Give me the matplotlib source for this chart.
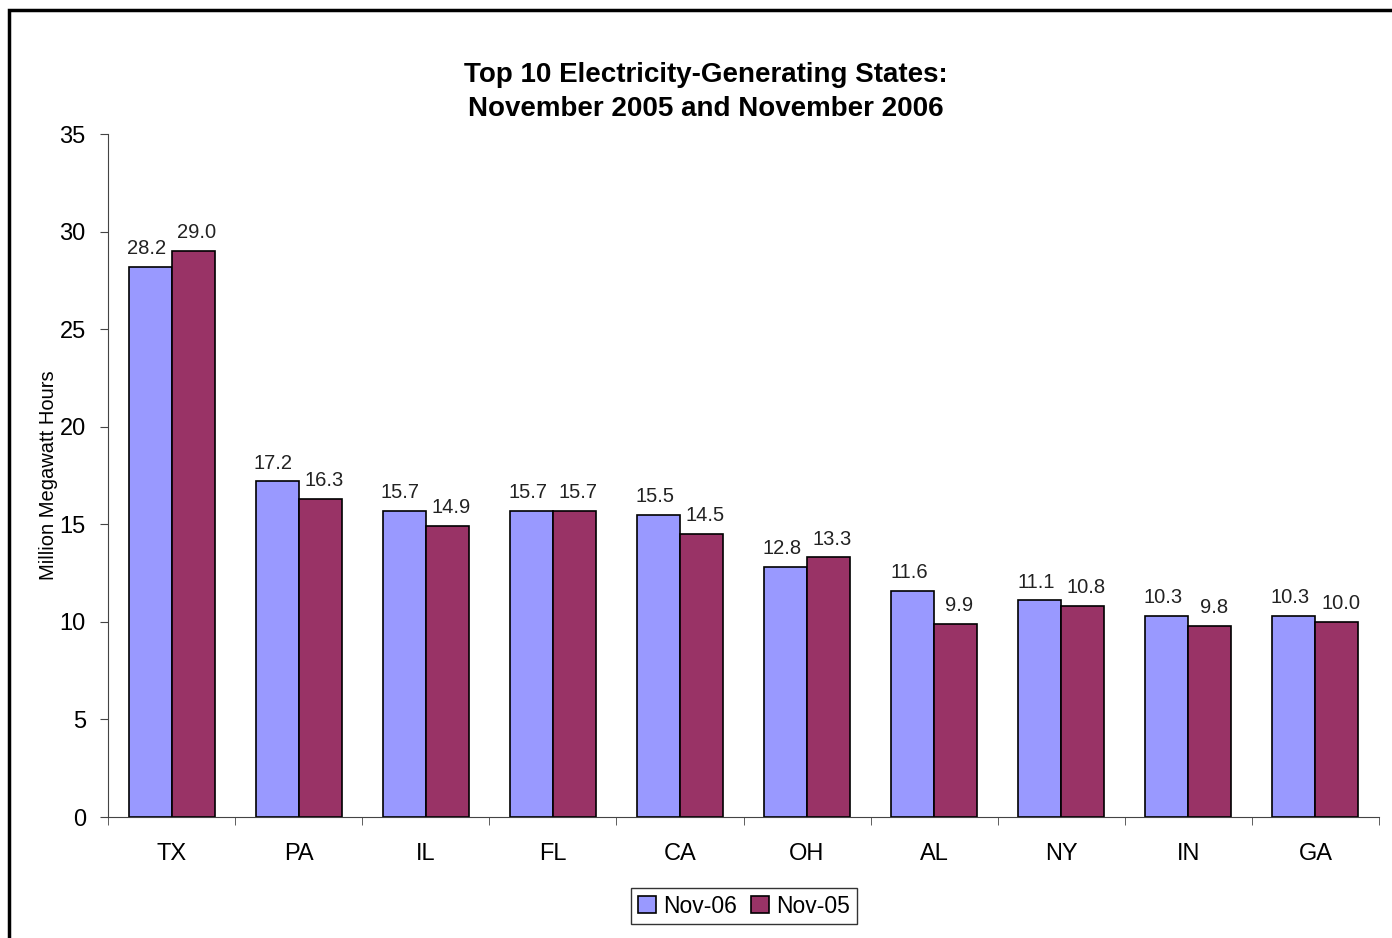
import numpy as np
import matplotlib.pyplot as plt
from matplotlib.patches import Rectangle

plt.rcParams['font.family'] = ['Liberation Sans', 'DejaVu Sans']

states = ['TX', 'PA', 'IL', 'FL', 'CA', 'OH', 'AL', 'NY', 'IN', 'GA']
nov06 = [28.2, 17.2, 15.7, 15.7, 15.5, 12.8, 11.6, 11.1, 10.3, 10.3]
nov05 = [29.0, 16.3, 14.9, 15.7, 14.5, 13.3, 9.9, 10.8, 9.8, 10.0]

fig = plt.figure(figsize=(13.92, 9.38), dpi=100)
ax = fig.add_axes([108/1392, 1 - 817/938, (1379-108)/1392, (817-134)/938])

x = np.arange(len(states))
w = 0.338
b1 = ax.bar(x - w/2, nov06, w, color='#9999FF', edgecolor='black', linewidth=1.2, label='Nov-06')
b2 = ax.bar(x + w/2, nov05, w, color='#993366', edgecolor='black', linewidth=1.2, label='Nov-05')
# labels sit slightly outward from bar centres, as in the original
for bars, vals, dx in ((b1, nov06, -0.03), (b2, nov05, 0.03)):
    for r, v in zip(bars, vals):
        ax.text(r.get_x() + r.get_width()/2 + dx, v + 0.45, '%.1f' % v, ha='center', va='bottom',
                fontsize=14.5, color='#222222')

ax.set_xlim(-0.5, len(states) - 0.5)
ax.set_ylim(0, 35)
ax.set_yticks(range(0, 36, 5))
ax.set_xticks(x)
ax.set_xticklabels(states)
ax.set_xticks(np.arange(-0.5, len(states)), minor=True)
ax.tick_params(axis='x', which='major', length=0, pad=19, labelsize=17)
ax.tick_params(axis='x', which='minor', length=6, direction='out', color='#444444')
ax.tick_params(axis='y', length=6, direction='out', labelsize=17, pad=10, color='#444444')
for s in ('top', 'right'):
    ax.spines[s].set_visible(False)
ax.spines['left'].set_color('#444444')
ax.spines['bottom'].set_color('#444444')
ax.set_ylabel('Million Megawatt Hours', fontsize=14.5, labelpad=1)

fig.text(0.507, 1 - 92/938, 'Top 10 Electricity-Generating States:\nNovember 2005 and November 2006',
         ha='center', va='center', fontsize=20, fontweight='bold', linespacing=1.45)

leg = ax.legend(loc='center', bbox_to_anchor=(744/1392, 1 - 906/938), bbox_transform=fig.transFigure,
                ncol=2, fontsize=16.5, frameon=True, fancybox=False, handlelength=0.8, handleheight=0.8,
                handletextpad=0.3, columnspacing=0.6, borderpad=0.3)
leg.get_frame().set_edgecolor('black')
leg.get_frame().set_linewidth(1)

fig.patches.append(Rectangle((9/1392, -0.1), 1.2, 1 - 10/938 + 0.1, transform=fig.transFigure,
                             fill=False, edgecolor='black', linewidth=2.5))

fig.savefig('out.png', dpi=100)
